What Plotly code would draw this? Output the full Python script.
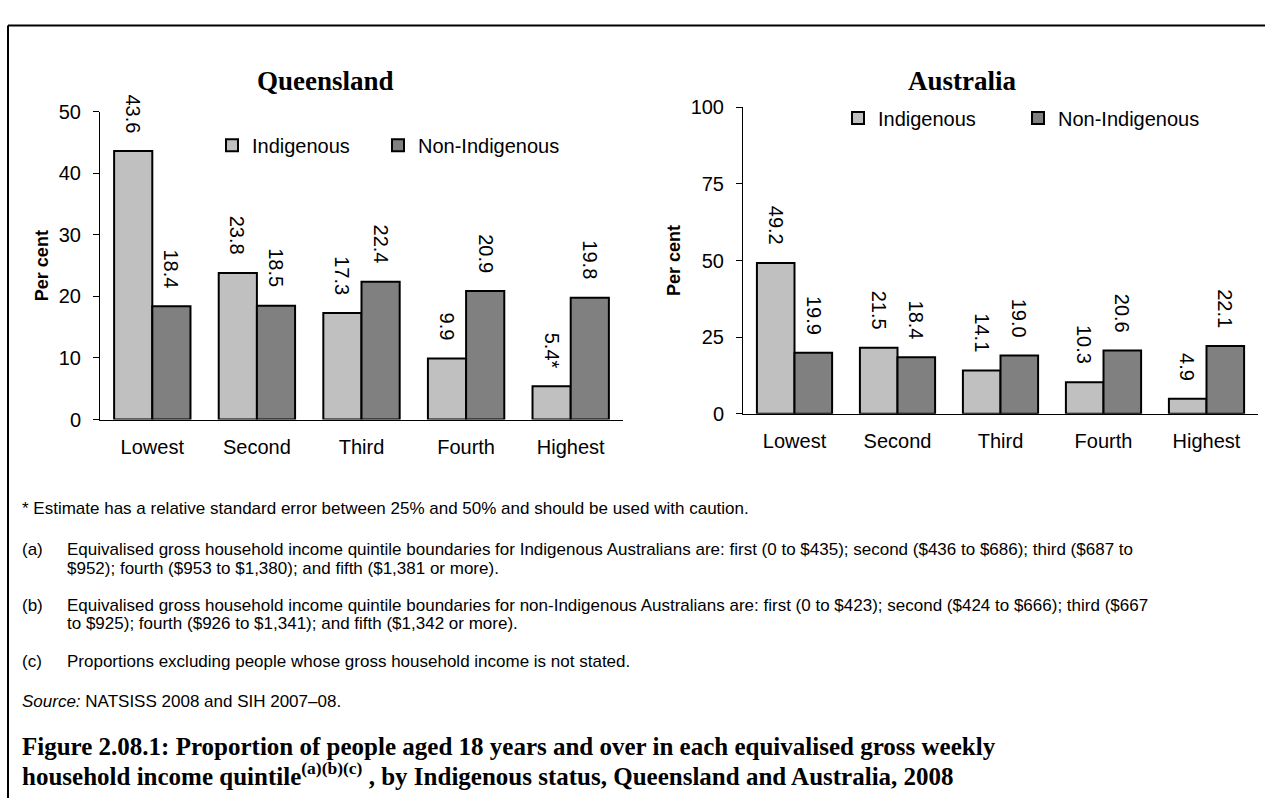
import plotly.graph_objects as go

W, H = 1265, 809

categories = ["Lowest", "Second", "Third", "Fourth", "Highest"]
qld_indigenous = [43.6, 23.8, 17.3, 9.9, 5.4]
qld_non_indigenous = [18.4, 18.5, 22.4, 20.9, 19.8]
qld_indigenous_flags = ["", "", "", "", "*"]
aus_indigenous = [49.2, 21.5, 14.1, 10.3, 4.9]
aus_non_indigenous = [19.9, 18.4, 19.0, 20.6, 22.1]
series_names = ["Indigenous", "Non-Indigenous"]
series_colors = ["#C0C0C0", "#808080"]
qld_yticks = [0, 10, 20, 30, 40, 50]
aus_yticks = [0, 25, 50, 75, 100]

footnote_star = "* Estimate has a relative standard error between 25% and 50% and should be used with caution."
footnote_a = ["Equivalised gross household income quintile boundaries for Indigenous Australians are: first (0 to $435); second ($436 to $686); third ($687 to",
              "$952); fourth ($953 to $1,380); and fifth ($1,381 or more)."]
footnote_b = ["Equivalised gross household income quintile boundaries for non-Indigenous Australians are: first (0 to $423); second ($424 to $666); third ($667",
              "to $925); fourth ($926 to $1,341); and fifth ($1,342 or more)."]
footnote_c = "Proportions excluding people whose gross household income is not stated."
source_text = "<i>Source:</i> NATSISS 2008 and SIH 2007\u201308."
caption_lines = ["Figure 2.08.1: Proportion of people aged 18 years and over in each equivalised gross weekly",
                 "household income quintile<sup>(a)(b)(c)</sup> , by Indigenous status, Queensland and Australia, 2008"]

SANS = "Liberation Sans, Arial, sans-serif"
SERIF = "Liberation Serif, Times New Roman, serif"
BARGAP = 0.27


def px_x(p):
    return p / W


def px_y(p):
    return 1 - p / H


fig = go.Figure()

legend_ids = [["legend", "legend2"], ["legend3", "legend4"]]
for (xa, ya), (ind, non), legs in zip([("x", "y"), ("x2", "y2")],
                                      [(qld_indigenous, qld_non_indigenous), (aus_indigenous, aus_non_indigenous)],
                                      legend_ids):
    for name, vals, col, leg in zip(series_names, [ind, non], series_colors, legs):
        fig.add_trace(go.Bar(x=categories, y=vals, name=name, xaxis=xa, yaxis=ya,
                             marker=dict(color=col, line=dict(color="black", width=2)),
                             legend=leg, hoverinfo="x+y"))

annotations = []
offset = (1 - BARGAP) / 4
for xref, yref, groups in [
    ("x", "y", [(qld_indigenous, -offset, qld_indigenous_flags), (qld_non_indigenous, offset, None)]),
    ("x2", "y2", [(aus_indigenous, -offset, None), (aus_non_indigenous, offset, None)]),
]:
    for vals, off, flags in groups:
        for i, v in enumerate(vals):
            txt = f"{v:.1f}" + (flags[i] if flags else "")
            annotations.append(dict(x=i + off, y=v, xref=xref, yref=yref, text=txt,
                                    textangle=90, showarrow=False, yanchor="bottom",
                                    xanchor="center", yshift=16,
                                    font=dict(family=SANS, size=20, color="black")))

# chart titles
TITLE_FONT = dict(family=SERIF, size=27, color="black")
annotations.append(dict(x=px_x(325), y=px_y(72), xref="paper", yref="paper", text="<b>Queensland</b>",
                        showarrow=False, xanchor="center", yanchor="middle", font=TITLE_FONT))
annotations.append(dict(x=px_x(962), y=px_y(72), xref="paper", yref="paper", text="<b>Australia</b>",
                        showarrow=False, xanchor="center", yanchor="middle", font=TITLE_FONT))

# footnotes
FN = dict(family=SANS, size=17, color="black")


def note(x, y, text, font=FN):
    annotations.append(dict(x=px_x(x), y=px_y(y), xref="paper", yref="paper", text=text,
                            showarrow=False, xanchor="left", yanchor="middle", align="left",
                            font=font))


note(20, 511, footnote_star)
note(20, 554, "(a)")
note(65, 554, footnote_a[0])
note(65, 573, footnote_a[1])
note(20, 611, "(b)")
note(65, 611, footnote_b[0])
note(65, 630, footnote_b[1])
note(20, 669, "(c)")
note(65, 669, footnote_c)
note(20, 710, source_text)
CAP = dict(family=SERIF, size=25, color="black")
note(20, 756, "<b>" + caption_lines[0] + "</b>", CAP)
note(20, 784, "<b>" + caption_lines[1] + "</b>", CAP)

axis_common = dict(showgrid=False, zeroline=False, showline=True, linecolor="black", linewidth=1,
                   tickfont=dict(family=SANS, size=20, color="black"))
ytitle = dict(text="<b>Per cent</b>", font=dict(family=SANS, size=18, color="black"), standoff=5)

LEG_FONT = dict(family=SANS, size=20, color="black")


def legend_at(x, y):
    return dict(orientation="h", x=px_x(x), y=px_y(y), xanchor="left", yanchor="middle",
                font=LEG_FONT, bgcolor="rgba(0,0,0,0)", itemclick=False, itemdoubleclick=False)


fig.update_layout(
    width=W, height=H,
    margin=dict(l=0, r=0, t=0, b=0),
    paper_bgcolor="white", plot_bgcolor="white",
    barmode="group", bargap=BARGAP, bargroupgap=0,
    showlegend=True,
    xaxis=dict(domain=[px_x(100), px_x(623)], anchor="y", type="category", ticks="",
               ticklabelstandoff=9, **axis_common),
    yaxis=dict(domain=[px_y(420), px_y(103.5)], anchor="x", range=[0, 50], tickvals=qld_yticks,
               ticks="outside", ticklen=6, tickcolor="black", ticklabelstandoff=8,
               title=ytitle, **axis_common),
    xaxis2=dict(domain=[px_x(743), px_x(1258)], anchor="y2", type="category", ticks="",
                ticklabelstandoff=9, **axis_common),
    yaxis2=dict(domain=[px_y(414), px_y(99)], anchor="x2", range=[0, 100], tickvals=aus_yticks,
                ticks="outside", ticklen=6, tickcolor="black", ticklabelstandoff=8,
                title=ytitle, **axis_common),
    legend=legend_at(212, 138),
    legend2=legend_at(378, 138),
    legend3=legend_at(838, 110),
    legend4=legend_at(1018, 110),
    annotations=annotations,
    shapes=[
        dict(type="line", xref="paper", yref="paper", x0=px_x(8), x1=1, y0=px_y(15), y1=px_y(15),
             line=dict(color="black", width=2)),
        dict(type="line", xref="paper", yref="paper", x0=px_x(8), x1=px_x(8), y0=px_y(15), y1=0,
             line=dict(color="black", width=2)),
    ],
)

fig.write_html("out.html", config={"displayModeBar": False},
               post_script="document.body.style.margin='0';document.body.style.overflow='hidden';")
